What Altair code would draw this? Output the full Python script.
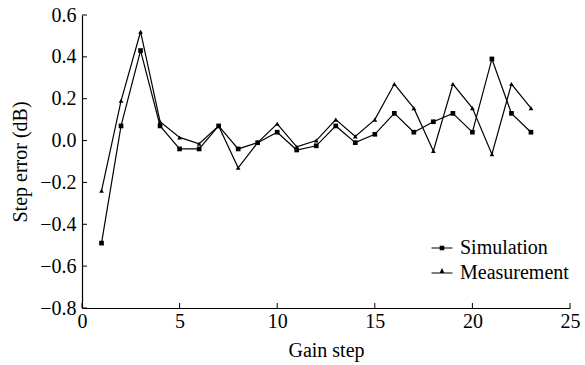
import altair as alt
import pandas as pd

steps = list(range(1, 24))
simulation = [-0.49, 0.07, 0.43, 0.07, -0.04, -0.04, 0.07, -0.04, -0.01, 0.04, -0.045, -0.025,
              0.07, -0.01, 0.03, 0.13, 0.04, 0.09, 0.13, 0.04, 0.39, 0.13, 0.04]
measurement = [-0.24, 0.19, 0.52, 0.09, 0.015, -0.015, 0.07, -0.13, -0.01, 0.08, -0.03, 0.0,
               0.10, 0.02, 0.10, 0.27, 0.155, -0.05, 0.27, 0.155, -0.065, 0.27, 0.155]
series_names = ["Simulation", "Measurement"]
x_ticks = [0, 5, 10, 15, 20, 25]
y_ticks = [-0.8, -0.6, -0.4, -0.2, 0, 0.2, 0.4, 0.6]

rows = []
for s, v1, v2 in zip(steps, simulation, measurement):
    rows.append({"step": s, "value": v1, "series": series_names[0]})
    rows.append({"step": s, "value": v2, "series": series_names[1]})
df = pd.DataFrame(rows)
xt = pd.DataFrame({"step": x_ticks})
yt = pd.DataFrame({"value": y_ticks})

FONT = "Liberation Serif"
FS = 20
W, H = 488, 293

leg_sq = ("M-1.5,-0.08L1.5,-0.08L1.5,0.08L-1.5,0.08Z"
          "M-0.33,-0.33L0.33,-0.33L0.33,0.33L-0.33,0.33Z")
leg_tri = ("M-1.5,-0.08L1.5,-0.08L1.5,0.08L-1.5,0.08Z"
           "M0,-0.7L0.36,0.05L-0.36,0.05Z")

xs = alt.Scale(domain=[0, 25], nice=False)
ys = alt.Scale(domain=[-0.8, 0.6], nice=False)

x = alt.X("step:Q", scale=xs,
          axis=alt.Axis(values=x_ticks, title="Gain step", grid=False, ticks=False,
                        labelOverlap=False, labelFlush=False,
                        labelFont=FONT, labelFontSize=FS, titleFont=FONT, titleFontSize=FS,
                        labelPadding=3, titlePadding=9))
y = alt.Y("value:Q", scale=ys,
          axis=alt.Axis(values=y_ticks, title="Step error (dB)", grid=False, ticks=False,
                        labelOverlap=False, labelFlush=False,
                        labelFont=FONT, labelFontSize=FS, titleFont=FONT, titleFontSize=FS,
                        format=".1f", labelPadding=6, titlePadding=9))

lines = alt.Chart(df).mark_line(color="black", strokeWidth=1.2).encode(
    x=x, y=y, detail="series:N"
)
points = alt.Chart(df).mark_point(filled=True, color="black", size=22, opacity=1).encode(
    x=x, y=y,
    shape=alt.Shape("series:N", sort=series_names,
                    scale=alt.Scale(domain=series_names, range=["square", "triangle-up"]),
                    legend=None)
)
legend_layer = alt.Chart(df).transform_filter("false").mark_point(
    filled=True, color="black", opacity=1
).encode(
    x=x, y=y,
    shape=alt.Shape("series:N", sort=series_names,
                    scale=alt.Scale(domain=series_names, range=[leg_sq, leg_tri]),
                    legend=alt.Legend(title=None, orient="none", legendX=350, legendY=223,
                                      labelFont=FONT, labelFontSize=FS, symbolSize=196,
                                      symbolStrokeWidth=0, symbolFillColor="black",
                                      rowPadding=5, labelOffset=8, labelColor="black"))
)
xtick_marks = alt.Chart(xt).mark_rule(color="black", strokeWidth=1).encode(
    x=x, y=alt.value(H), y2=alt.value(H - 5)
)
ytick_marks = alt.Chart(yt).mark_rule(color="black", strokeWidth=1).encode(
    y=y, x=alt.value(0), x2=alt.value(5)
)

chart = alt.layer(lines, points, legend_layer, xtick_marks, ytick_marks).resolve_scale(
    shape="independent"
).properties(
    width=W, height=H,
    autosize=alt.AutoSizeParams(type="none"),
    padding={"left": 82, "top": 15, "right": 15, "bottom": 57},
    background="white",
).configure_view(stroke=None).configure_axis(
    labelFont=FONT, titleFont=FONT, labelFontSize=FS, titleFontSize=FS,
    titleFontWeight="normal", labelColor="black", titleColor="black",
    domainColor="black", domainWidth=1.2,
)

chart.save("out.html", embed_options={"renderer": "svg", "actions": False})
